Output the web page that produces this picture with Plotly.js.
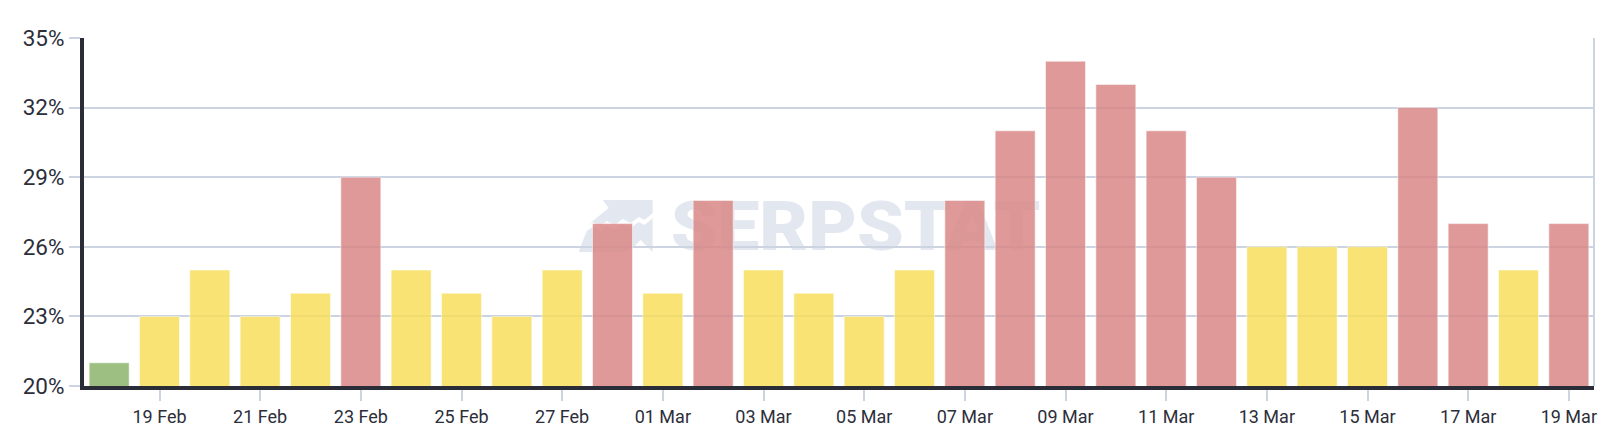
<!DOCTYPE html>
<html>
<head>
<meta charset="utf-8">
<script src="https://cdn.plot.ly/plotly-3.0.1.min.js"></script>
<style>
html,body{margin:0;padding:0;background:#fff;}
#chart{width:1622px;height:444px;}
</style>
</head>
<body>
<div id="chart"></div>
<script>
// Data
const dates = ["18 Feb","19 Feb","20 Feb","21 Feb","22 Feb","23 Feb","24 Feb","25 Feb","26 Feb","27 Feb","28 Feb",
  "01 Mar","02 Mar","03 Mar","04 Mar","05 Mar","06 Mar","07 Mar","08 Mar","09 Mar","10 Mar","11 Mar","12 Mar",
  "13 Mar","14 Mar","15 Mar","16 Mar","17 Mar","18 Mar","19 Mar"];
const values = [21,23,25,23,24,29,25,24,23,25,27,24,28,25,24,23,25,28,31,34,33,31,29,26,26,26,32,27,25,27];
const xTickLabels = ["19 Feb","21 Feb","23 Feb","25 Feb","27 Feb","01 Mar","03 Mar","05 Mar","07 Mar","09 Mar",
  "11 Mar","13 Mar","15 Mar","17 Mar","19 Mar"];
const yTickValues = [20,23,26,29,32,35];
const yTickLabels = ["20%","23%","26%","29%","32%","35%"];

function barColor(v){
  if (v >= 27) return "#da8887";
  if (v <= 21) return "#8cb66d";
  return "#f8df5c";
}

const watermarkSvg =
  '<svg xmlns="http://www.w3.org/2000/svg" width="462" height="52" viewBox="0 0 462 52">' +
  '<g fill="#e3e7f0">' +
  '<polygon points="24,0 74,0 74,13 66,20 60,17 52,23 44,19 36,25 28,21 22,26 14,22 8,26 30,8"/>' +
  '<polygon points="8,31 14,27 22,31 28,26 36,30 44,24 52,28 60,22 66,25 74,18 74,52 62,40 54,48 46,52 0,52 "/>' +
  '</g>' +
  '<text x="92" y="50.5" font-family="Roboto, Arial, sans-serif" font-weight="900" font-size="68" fill="#e3e7f0" textLength="370" lengthAdjust="spacingAndGlyphs">SERPSTAT</text>' +
  '</svg>';
const watermarkSrc = 'data:image/svg+xml;charset=utf-8,' + encodeURIComponent(watermarkSvg);

const trace = {
  type: 'bar',
  x: dates,
  y: values,
  marker: {
    color: values.map(barColor),
    opacity: 0.85,
    line: {color: 'rgba(255,255,255,0.55)', width: 1}
  },
  hoverinfo: 'x+y'
};

const gridColor = '#ccd3e1';
const layout = {
  width: 1622,
  height: 444,
  margin: {l: 84, r: 28, t: 38, b: 58},
  paper_bgcolor: '#ffffff',
  plot_bgcolor: '#ffffff',
  bargap: 0.205,
  showlegend: false,
  font: {family: 'Roboto, "Open Sans", sans-serif', color: '#2c2e3a'},
  xaxis: {
    type: 'category',
    range: [-0.5, 29.5],
    tickmode: 'array',
    tickvals: xTickLabels,
    ticktext: xTickLabels,
    ticks: 'outside',
    ticklen: 11,
    tickwidth: 2,
    tickcolor: gridColor,
    tickfont: {size: 18, color: '#2c2e3a'},
    showgrid: false,
    showline: true,
    linecolor: '#2a2d38',
    linewidth: 4,
    zeroline: false,
    fixedrange: true
  },
  yaxis: {
    range: [20, 35],
    tickmode: 'array',
    tickvals: yTickValues,
    ticktext: yTickLabels,
    ticks: 'outside',
    ticklen: 11,
    tickwidth: 2,
    tickcolor: gridColor,
    tickfont: {size: 22.5, color: '#2c2e3a'},
    showgrid: true,
    gridcolor: gridColor,
    gridwidth: 2,
    showline: true,
    linecolor: '#2a2d38',
    linewidth: 4,
    zeroline: false,
    fixedrange: true
  },
  shapes: [
    {type: 'line', xref: 'paper', yref: 'paper', x0: 1, x1: 1, y0: 0, y1: 1,
     line: {color: gridColor, width: 2}, layer: 'below'}
  ],
  images: [
    {source: watermarkSrc, xref: 'paper', yref: 'paper', x: 0.3276, y: 0.5345,
     sizex: 0.3058, sizey: 0.1494, sizing: 'stretch', xanchor: 'left', yanchor: 'top', layer: 'below'}
  ]
};

Plotly.newPlot('chart', [trace], layout, {displayModeBar: false, staticPlot: true});
</script>
</body>
</html>
